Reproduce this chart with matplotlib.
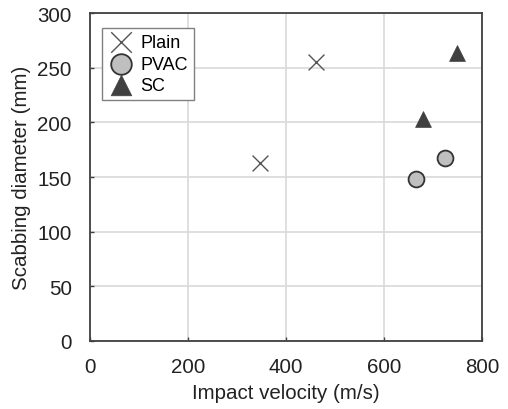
import matplotlib
matplotlib.use("Agg")
import matplotlib.pyplot as plt

plain_x = [346, 462]
plain_y = [163, 255]
pvac_x = [666, 725]
pvac_y = [148, 167]
sc_x = [680, 748]
sc_y = [203, 264]
xticks = [0, 200, 400, 600, 800]
yticks = [0, 50, 100, 150, 200, 250, 300]

plt.rcParams['font.family'] = ['Liberation Sans', 'DejaVu Sans']
fig = plt.figure(figsize=(5.08, 4.10), dpi=100)
ax = fig.add_axes([0.177, 0.1666, 0.772, 0.7985])

ax.scatter(plain_x, plain_y, marker='x', s=130, c='#555555', linewidths=1.0, label='Plain', zorder=3)
ax.scatter(pvac_x, pvac_y, marker='o', s=130, facecolor='#bfbfbf', edgecolor='#333333', linewidths=1.3, label='PVAC', zorder=3)
ax.scatter(sc_x, sc_y, marker='^', s=130, c='#404040', edgecolors='#404040', linewidths=0.5, label='SC', zorder=3)

ax.set_xlim(0, 800)
ax.set_ylim(0, 300)
ax.set_xticks(xticks)
ax.set_yticks(yticks)
ax.grid(True, color='#d9d9d9', linewidth=1.2, zorder=0)
ax.set_axisbelow(True)
for s in ax.spines.values():
    s.set_color('#404040')
    s.set_linewidth(1.3)
ax.tick_params(axis='x', labelsize=14.8, colors='#404040', labelcolor='#222222', length=3, width=1, direction='in', pad=12)
ax.tick_params(axis='y', labelsize=14.8, colors='#404040', labelcolor='#222222', length=3, width=1, direction='in', pad=13)
ax.set_xlabel('Impact velocity (m/s)', fontsize=14.8, color='#222222', labelpad=5)
ax.set_ylabel('Scabbing diameter (mm)', fontsize=14.8, color='#222222', labelpad=5)

leg = ax.legend(loc='upper left', bbox_to_anchor=(0.03, 0.956), fontsize=13, frameon=True, fancybox=False,
                edgecolor='#808080', framealpha=1, handletextpad=0.4, borderpad=0.35, labelspacing=0.25,
                handlelength=1.4, markerscale=1.3, borderaxespad=0)
leg.get_frame().set_linewidth(1.0)

fig.savefig('out.png', dpi=100)
